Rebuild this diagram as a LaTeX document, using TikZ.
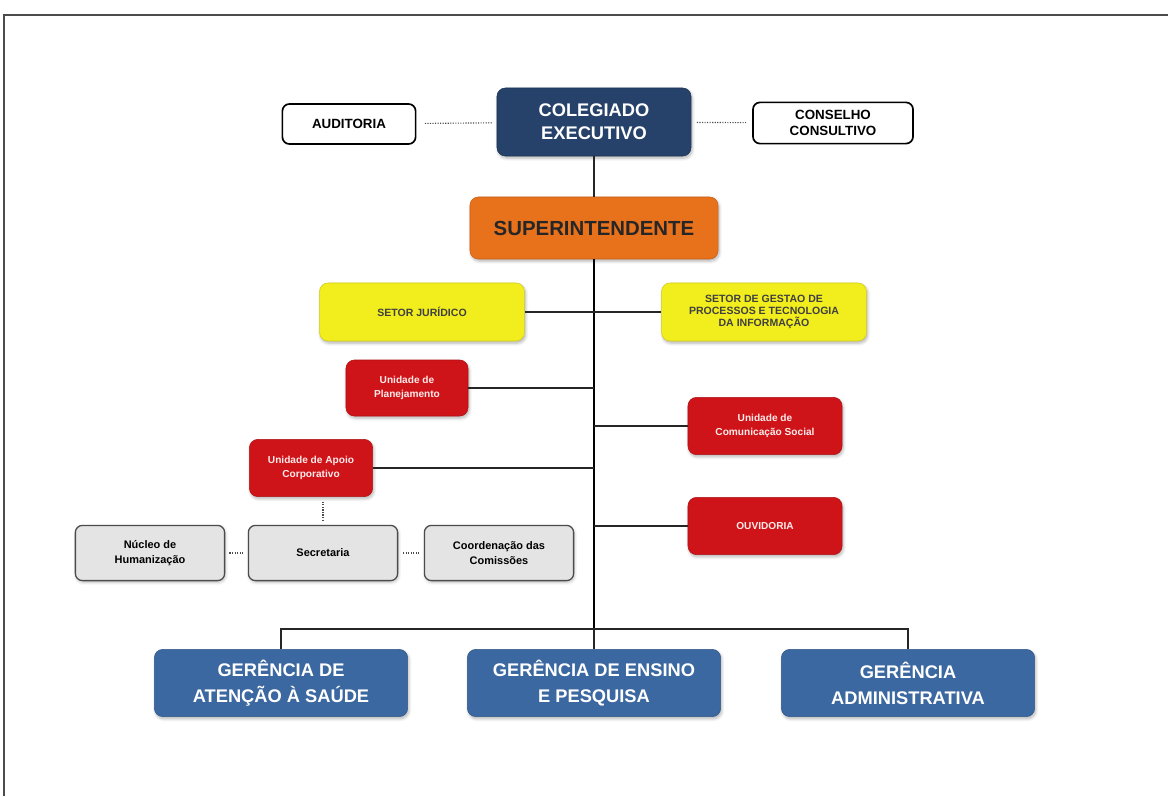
\documentclass[tikz,border=0pt]{standalone}
\usepackage{fontspec}
\setmainfont{Liberation Sans}
\usepackage{tikz}
\usetikzlibrary{positioning,calc,shadows.blur}

\definecolor{navyC}{RGB}{38,66,106}
\definecolor{blueC}{RGB}{59,104,160}
\definecolor{orangeC}{RGB}{232,113,28}
\definecolor{yellowC}{RGB}{242,238,30}
\definecolor{redC}{RGB}{206,20,24}
\definecolor{grayC}{RGB}{228,228,228}

\tikzset{
  ocBox/.style={rounded corners=6pt, align=center, inner sep=2pt,
    blur shadow={shadow blur steps=6, shadow xshift=0.8pt, shadow yshift=-1.5pt, shadow opacity=30}},
  ocNavy/.style={ocBox, fill=navyC, draw=navyC!80!black, text=white,
    minimum width=4.85cm, minimum height=1.7cm,
    font=\fontsize{13}{16.5}\selectfont\bfseries},
  ocWhite/.style={draw=black, line width=1.2pt, fill=white, rounded corners=5pt,
    minimum width=3.33cm, minimum height=1.0cm, align=center, inner sep=1pt,
    font=\fontsize{9.5}{11}\selectfont\bfseries},
  ocOrange/.style={ocBox, fill=orangeC, draw=orangeC!85!black, text=black!85,
    minimum width=6.2cm, minimum height=1.55cm,
    font=\fontsize{14.5}{17}\selectfont\bfseries},
  ocYellow/.style={ocBox, fill=yellowC, draw=yellowC!85!black, text=black!75,
    minimum width=5.12cm, minimum height=1.45cm,
    font=\fontsize{7.5}{8.8}\selectfont\bfseries},
  ocRed/.style={ocBox, fill=redC, draw=redC!85!black, text=white!92!red,
    minimum width=3.85cm, minimum height=1.43cm,
    font=\fontsize{7.2}{9.5}\selectfont\bfseries},
  ocGray/.style={draw=black!70, line width=0.9pt, fill=grayC, rounded corners=5pt,
    minimum width=3.73cm, minimum height=1.38cm, align=center, inner sep=1pt,
    font=\fontsize{7.8}{10.5}\selectfont\bfseries,
    blur shadow={shadow blur steps=5, shadow xshift=0.6pt, shadow yshift=-1.2pt, shadow opacity=25}},
  ocBlue/.style={ocBox, fill=blueC, draw=blueC!85!black, text=white,
    minimum width=6.33cm, minimum height=1.68cm,
    font=\fontsize{13}{18.5}\selectfont\bfseries},
  %% connectors
  ocline/.style={line width=1.3pt, black!85},
  ocdot/.style={densely dotted, line width=0.8pt, gray!60!black},
  ocframe/.style={line width=1.3pt, gray!60!black},
}

\begin{document}
\begin{tikzpicture}[x=0.025cm, y=-0.025cm]
\useasboundingbox (0,0) rectangle (1168,796);
\draw[ocframe] (4,796) -- (4,15) -- (1168,15);

\node[ocNavy]  (col)  at (594,122) {COLEGIADO\\EXECUTIVO};
\node[ocWhite] (aud)  at (349,124) {AUDITORIA};
\node[ocWhite, minimum width=4cm, minimum height=1.03cm] (cons) at (833,123) {CONSELHO\\CONSULTIVO};
\node[ocOrange] (sup) at (594,228) {SUPERINTENDENTE};

\node[ocYellow] (jur)  at (422,312) {SETOR JURÍDICO};
\node[ocYellow] (gest) at (764,312) {SETOR DE GESTAO DE\\PROCESSOS E TECNOLOGIA\\DA INFORMAÇÃO};

\node[ocRed, minimum width=3.05cm, minimum height=1.4cm] (plan)  at (407,388) {Unidade de\\Planejamento};
\node[ocRed]                                             (com)   at (765,426) {Unidade de\\Comunicação Social};
\node[ocRed, minimum width=3.08cm]                       (apoio) at (311,468) {Unidade de Apoio\\Corporativo};
\node[ocRed]                                             (ouv)   at (765,526) {OUVIDORIA};

\node[ocGray] (nuc)   at (150,553) {Núcleo de\\Humanização};
\node[ocGray] (sec)   at (323,553) {Secretaria};
\node[ocGray] (coord) at (499,553) {Coordenação das\\Comissões};

\node[ocBlue] (ate) at (281,683) {GERÊNCIA DE\\ATENÇÃO À SAÚDE};
\node[ocBlue] (ens) at (594,683) {GERÊNCIA DE ENSINO\\E PESQUISA};
\node[ocBlue] (adm) at (908,683) {GERÊNCIA\\ADMINISTRATIVA};

\coordinate (bus) at (594,629);

% dotted links
\draw[ocdot, shorten <=6pt, shorten >=3.5pt] (aud) -- (col);
\draw[ocdot, shorten <=4pt, shorten >=3.5pt] (col) -- (cons);
\draw[ocdot, shorten <=3.5pt, shorten >=3pt] (sec.north |- apoio.south) -- (sec.north);
\draw[ocdot, shorten <=3pt, shorten >=3.5pt] (nuc) -- (sec);
\draw[ocdot, shorten <=3.5pt, shorten >=3.5pt] (sec) -- (coord);

% hierarchy
\draw[ocline] (col) -- (sup);
\draw[ocline, line width=1.6pt, black] (sup.south) -- (bus);
\draw[ocline] (jur.east) -- (gest.west);
\draw[ocline] (plan.east) -- (plan.east -| bus);
\draw[ocline] (com.west) -- (com.west -| bus);
\draw[ocline] (apoio.east) -- (apoio.east -| bus);
\draw[ocline] (ouv.west) -- (ouv.west -| bus);
\draw[ocline] (ate.north) |- (bus) -| (adm.north);
\draw[ocline] (bus) -- (ens.north);

\end{tikzpicture}
\end{document}
